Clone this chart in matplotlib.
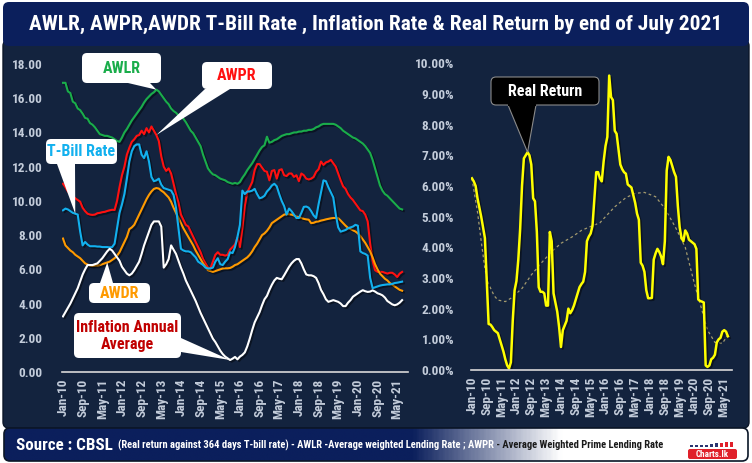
import numpy as np
import matplotlib
matplotlib.use('Agg')
import matplotlib.pyplot as plt
import matplotlib.patheffects as pe
from matplotlib import font_manager
from matplotlib.patches import FancyBboxPatch, Polygon, Rectangle
from matplotlib.colors import LinearSegmentedColormap
from matplotlib.transforms import Bbox, TransformedBbox

# monthly values, Jan-2010 .. Jul-2021
awlr = [16.9, 16.9, 16.4, 16.3, 15.8, 15.7, 15.4, 15.3, 15.1, 14.85, 14.8, 14.55,
        14.45, 14.3, 14.1, 13.9, 13.85, 13.8, 13.8, 13.75, 13.7, 13.6, 13.5, 13.45,
        13.7, 14.0, 14.2, 14.45, 14.7, 14.9, 15.1, 15.3, 15.5, 15.75, 15.95, 16.1,
        16.25, 16.35, 16.5, 16.4, 16.2, 16.0, 15.8, 15.65, 15.4, 15.25, 15.15, 15.0,
        15.0, 14.8, 14.6, 14.35, 14.1, 13.95, 13.7, 13.45, 13.2, 12.7, 12.3, 11.9,
        11.7, 11.55, 11.5, 11.4, 11.3, 11.25, 11.2, 11.1, 11.05, 11.0, 11.05, 11.0,
        11.1, 11.35, 11.55, 11.8, 12.0, 12.2, 12.45, 12.7, 12.95, 13.15, 13.25, 13.75,
        13.4, 13.45, 13.55, 13.6, 13.7, 13.8, 13.85, 13.9, 13.9, 13.95, 14.0, 14.0,
        14.05, 14.05, 14.1, 14.1, 14.15, 14.15, 14.2, 14.3, 14.35, 14.45, 14.5, 14.5,
        14.5, 14.5, 14.5, 14.45, 14.35, 14.25, 14.1, 14.0, 13.9, 13.8, 13.7, 13.65,
        13.55, 13.45, 13.35, 13.2, 13.0, 12.8, 12.4, 11.9, 11.4, 10.9, 10.6, 10.4,
        10.3, 10.15, 10.0, 9.85, 9.7, 9.55, 9.5]
awpr = [11.0, 10.8, 10.55, 10.4, 10.3, 10.15, 10.05, 9.95, 9.6, 9.4, 9.25, 9.2,
        9.18, 9.2, 9.28, 9.3, 9.34, 9.36, 9.41, 9.45, 9.48, 9.47, 10.0, 10.8,
        11.5, 12.0, 12.7, 13.1, 13.45, 13.6, 13.8, 13.85, 14.1, 13.9, 14.25, 14.0,
        14.35, 14.1, 13.85, 13.5, 12.6, 12.0, 11.75, 11.9, 11.6, 11.0, 10.4, 9.9,
        9.2, 8.9, 8.6, 8.5, 8.2, 7.9, 7.6, 7.3, 7.0, 6.6, 6.35, 6.1,
        6.05, 6.45, 6.85, 7.0, 6.85, 6.85, 6.8, 6.85, 7.15, 7.3, 7.45, 7.85,
        7.3, 8.4, 9.7, 10.5, 10.8, 11.1, 11.8, 12.15, 12.15, 11.95, 11.75, 11.7,
        11.2, 11.75, 11.8, 11.3, 11.8, 11.85, 11.5, 11.45, 11.6, 11.6, 11.4, 11.5,
        11.15, 11.6, 11.5, 11.3, 11.25, 11.3, 11.4, 11.7, 11.85, 12.3, 12.1, 12.25,
        12.3, 12.4, 12.2, 12.0, 11.6, 11.2, 10.85, 10.7, 10.4, 10.2, 10.05, 9.85,
        9.65, 9.45, 9.4, 9.2, 8.8, 7.5, 6.5, 5.95, 5.85, 5.85, 5.85, 5.8,
        5.75, 5.8, 5.8, 5.7, 5.55, 5.75, 5.85]
tbill = [9.45, 9.55, 9.5, 9.4, 9.3, 9.25, 9.2, 8.2, 7.4, 7.6, 7.45, 7.35,
         7.35, 7.35, 7.33, 7.33, 7.3, 7.3, 7.3, 7.28, 7.3, 7.5, 8.4, 9.3,
         9.8, 10.4, 11.3, 12.3, 12.9, 13.2, 13.3, 13.3, 12.7, 12.5, 12.9, 12.3,
         11.4, 11.15, 11.2, 11.3, 10.95, 10.75, 10.7, 10.65, 10.6, 10.35, 9.6, 8.4,
         7.2, 7.1, 7.05, 7.05, 7.0, 6.85, 6.7, 6.45, 6.35, 6.25, 6.1, 6.05,
         6.05, 6.1, 6.45, 6.65, 6.3, 6.25, 6.45, 6.6, 7.0, 6.95, 7.3, 7.9,
         8.6, 10.6, 10.4, 10.55, 10.55, 10.6, 10.7, 10.4, 10.15, 10.2, 10.3, 10.55,
         10.7, 10.9, 11.0, 10.85, 10.4, 10.0, 9.7, 9.2, 9.55, 9.4, 9.2, 9.0,
         9.0, 9.3, 9.65, 9.67, 9.6, 9.4, 9.15, 9.0, 9.8, 10.5, 11.2, 11.15,
         10.8, 10.5, 10.2, 9.2, 8.45, 8.2, 8.25, 8.3, 8.4, 8.45, 8.5, 8.6,
         8.55, 7.05, 6.95, 6.9, 6.8, 5.5, 4.9, 4.95, 5.0, 5.05, 5.08, 5.1,
         5.12, 5.12, 5.15, 5.2, 5.22, 5.25, 5.28]
awdr = [7.8, 7.4, 7.25, 7.1, 7.0, 6.85, 6.75, 6.65, 6.5, 6.35, 6.28, 6.22,
        6.2, 6.22, 6.22, 6.25, 6.3, 6.35, 6.4, 6.45, 6.55, 6.65, 6.8, 7.0,
        7.3, 7.6, 7.9, 8.35, 8.45, 8.6, 8.9, 9.2, 9.5, 9.8, 10.1, 10.35,
        10.55, 10.7, 10.75, 10.72, 10.6, 10.5, 10.35, 10.2, 9.95, 9.6, 9.3, 9.0,
        8.7, 8.4, 8.15, 7.9, 7.65, 7.4, 7.1, 6.85, 6.6, 6.35, 6.15, 5.95,
        5.9, 5.85, 5.9, 5.95, 6.0, 6.05, 6.06, 6.06, 6.08, 6.15, 6.25, 6.3,
        6.4, 6.5, 6.6, 6.7, 6.85, 7.05, 7.3, 7.5, 7.75, 8.0, 8.1, 8.25,
        8.45, 8.7, 8.8, 8.9, 9.0, 9.1, 9.2, 9.22, 9.22, 9.2, 9.15, 9.08,
        9.05, 9.0, 8.95, 8.92, 8.9, 8.7, 8.72, 8.78, 8.8, 8.85, 8.88, 8.92,
        8.95, 8.98, 9.0, 9.0, 8.99, 8.85, 8.7, 8.55, 8.42, 8.35, 8.28, 8.21,
        8.1, 7.95, 7.75, 7.55, 7.3, 7.05, 6.7, 6.3, 6.0, 5.75, 5.6, 5.45,
        5.35, 5.2, 5.1, 5.0, 4.9, 4.8, 4.75]
inflation = [3.25, 3.5, 3.75, 4.0, 4.3, 4.6, 4.9, 5.3, 5.7, 6.0, 6.25, 6.25,
             6.25, 6.3, 6.35, 6.5, 6.65, 6.85, 7.05, 7.2, 7.1, 6.9, 6.7, 6.5,
             6.15, 5.95, 5.75, 5.65, 5.75, 5.95, 6.2, 6.45, 6.9, 7.4, 7.8, 8.2,
             8.6, 8.8, 8.8, 8.8, 8.5, 6.1, 6.3, 6.6, 7.4, 7.15, 6.9, 6.5,
             6.1, 5.75, 5.35, 5.05, 4.75, 4.45, 4.15, 3.8, 3.45, 3.15, 2.85, 2.55,
             2.25, 1.95, 1.75, 1.5, 1.25, 1.05, 0.9, 0.8, 0.7, 0.78, 0.88, 0.74,
             0.9, 1.0, 1.15, 1.5, 1.95, 2.45, 2.9, 3.2, 3.5, 3.9, 4.25, 4.45,
             4.8, 5.1, 5.35, 5.5, 5.45, 5.42, 5.65, 5.9, 6.15, 6.35, 6.5, 6.6,
             6.6, 6.35, 6.0, 5.7, 5.65, 5.65, 5.6, 5.5, 5.2, 4.8, 4.55, 4.25,
             4.1, 4.15, 4.2, 4.15, 4.1, 4.0, 3.85, 3.85, 4.05, 4.2, 4.4, 4.5,
             4.6, 4.7, 4.78, 4.72, 4.68, 4.7, 4.77, 4.7, 4.6, 4.55, 4.48, 4.35,
             4.15, 4.05, 3.95, 3.9, 3.95, 4.05, 4.2]
real_return = [6.25, 6.15, 6.0, 5.6, 5.3, 5.0, 4.65, 4.3, 2.9, 1.5, 1.48, 1.4,
               1.3, 1.25, 1.2, 1.0, 0.8, 0.6, 0.35, 0.15, 0.05, 0.25, 1.6, 2.6,
               2.9, 3.6, 4.6, 6.0, 6.9, 7.0, 7.1, 7.0, 6.7, 5.6, 5.5, 4.5,
               2.7, 2.55, 2.55, 2.5, 2.1, 2.1, 4.5, 4.2, 2.5, 2.2, 1.9, 1.4,
               0.75, 1.3, 1.45, 1.6, 2.0, 1.85, 1.95, 2.1, 2.3, 2.5, 2.7, 2.8,
               2.88, 3.2, 4.2, 4.35, 4.45, 4.7, 5.6, 6.45, 6.45, 6.25, 6.15, 6.8,
               7.3, 7.6, 9.6, 8.9, 8.8, 7.8, 7.7, 7.2, 6.7, 6.55, 6.45, 6.4,
               6.05, 6.0, 5.95, 5.7, 5.45, 5.1, 4.9, 3.5, 3.4, 3.2, 2.6, 2.34,
               2.34, 2.35, 3.6, 3.8, 3.95, 3.85, 3.7, 3.45, 4.2, 6.5, 6.95, 6.85,
               6.65, 6.45, 6.3, 5.35, 4.65, 4.3, 4.2, 4.55, 4.45, 4.25, 4.2, 4.15,
               4.1, 3.95, 2.3, 2.25, 2.23, 2.2, 0.15, 0.1, 0.15, 0.35, 0.4, 0.5,
               0.9, 1.0, 1.05, 1.25, 1.3, 1.25, 1.1]
# dotted trend line of the real return, read at these months
trend_month = [0, 3, 5, 7, 9, 12, 14, 18, 21, 27, 32, 38, 43, 48, 54, 59, 64, 69,
               72, 77, 83, 88, 93, 99, 104, 110, 115, 120, 124, 127, 131, 135, 138]
trend_value = [6.25, 5.15, 4.2, 3.3, 2.8, 2.42, 2.28, 2.23, 2.34, 2.66, 3.1, 3.53,
               3.86, 4.13, 4.34, 4.55, 4.68, 4.8, 5.0, 5.32, 5.62, 5.76, 5.79, 5.65,
               5.27, 4.62, 4.0, 2.8, 1.95, 1.3, 0.9, 0.87, 1.14]

tick_labels = ['Jan-10', 'Sep-10', 'May-11', 'Jan-12', 'Sep-12', 'May-13', 'Jan-14',
               'Sep-14', 'May-15', 'Jan-16', 'Sep-16', 'May-17', 'Jan-18', 'Sep-18',
               'May-19', 'Jan-20', 'Sep-20', 'May-21']
left_yticks = [0, 2, 4, 6, 8, 10, 12, 14, 16, 18]
right_yticks = [0, 1, 2, 3, 4, 5, 6, 7, 8, 9, 10]

months = np.arange(len(awlr))
tick_pos = np.arange(len(tick_labels)) * 8

# pick a narrow font if there is one
names = {f.name for f in font_manager.fontManager.ttflist}
FONT = dict(family='DejaVu Sans', stretch='condensed')
for cand in ['Roboto Condensed', 'Liberation Sans Narrow']:
    if cand in names:
        FONT = dict(family=cand)
        break

W, H = 752, 463
fig = plt.figure(figsize=(W / 100, H / 100), dpi=100)
fig.patch.set_facecolor('white')


def px_axes(x0, y0, x1, y1, **kw):
    return fig.add_axes([x0 / W, 1 - y1 / H, (x1 - x0) / W, (y1 - y0) / H], **kw)


def pixel_layer(z):
    a = fig.add_axes([0, 0, 1, 1], zorder=z)
    a.set_xlim(0, W)
    a.set_ylim(H, 0)
    a.axis('off')
    a.patch.set_alpha(0)
    return a


bg = pixel_layer(0)
# main panel, title bar
bg.add_patch(FancyBboxPatch((3, 40), 746, 388, boxstyle='round,pad=0,rounding_size=6',
                            fc='#13233e', ec='#0b1628', lw=1))
bg.add_patch(FancyBboxPatch((3, 2), 746, 44, boxstyle='round,pad=0,rounding_size=6',
                            fc='#0b1f5c', ec='none'))
# footer with navy -> white gradient
foot = FancyBboxPatch((4, 428), 744, 33, boxstyle='round,pad=0,rounding_size=6',
                      fc='none', ec='#0b1628', lw=1.2, zorder=3)
bg.add_patch(foot)
grad = LinearSegmentedColormap.from_list('g', [(0, '#0b1f5c'), (0.55, '#0b1f5c'),
                                              (0.75, '#ffffff'), (1, '#ffffff')])
im = bg.imshow(np.linspace(0, 1, 400)[None, :], cmap=grad, aspect='auto',
               extent=(4, 748, 461, 428), zorder=2)
im.set_clip_path(foot)
bg.set_xlim(0, W)
bg.set_ylim(H, 0)

title = bg.text(W / 2, 24, 'AWLR, AWPR,AWDR T-Bill Rate , Inflation Rate & Real Return by end of July 2021',
                color='white', fontsize=17, fontweight='bold', ha='center', va='center', **FONT)

# footer texts: white over the navy part, dark over the white part
src = bg.text(16, 445, 'Source : CBSL', color='white', fontsize=11, fontweight='bold',
              va='center', zorder=4, **FONT)
note = '(Real return against 364 days T-bill rate) - AWLR -Average weighted Lending Rate ; AWPR - Average Weighted Prime Lending Rate'
note_w = bg.text(118, 445, note, color='white', fontsize=8, fontweight='bold', va='center', zorder=4, **FONT)
note_d = bg.text(118, 445, note, color='#1a1a1a', fontsize=8, fontweight='bold', va='center', zorder=4, **FONT)
split = 497
for t, (a, b) in [(note_w, (0, split)), (note_d, (split, W))]:
    t.set_clip_on(True)
    t.set_clip_box(TransformedBbox(Bbox([[a, 420], [b, 470]]), bg.transData))

# charts.lk logo
bg.add_patch(FancyBboxPatch((688, 449), 49, 10, boxstyle='round,pad=0,rounding_size=2',
                            fc='#e0202a', ec='none', zorder=4))
bg.text(712, 454.5, 'Charts.lk', color='white', fontsize=6.5, fontweight='bold',
        ha='center', va='center', zorder=5, **FONT)
for i, hgt in enumerate([2, 2, 2, 2, 3, 4, 4, 5, 5]):
    bg.add_patch(Rectangle((690 + i * 5, 447 - hgt), 3, hgt,
                           fc='#e0202a' if i > 5 else '#2a3570', ec='none', zorder=4))

renderer = fig.canvas.get_renderer()


def fit(t, width_px):
    w = t.get_window_extent(renderer).width
    t.set_fontsize(t.get_fontsize() * width_px / w)


fit(title, 697)
fit(src, 97)
fit(note_w, 549)
note_d.set_fontsize(note_w.get_fontsize())

tick_color = '#c3ccda'


def style(ax, yticks, yfmt, ypad):
    ax.set_facecolor('none')
    for s in ['top', 'right', 'left']:
        ax.spines[s].set_visible(False)
    ax.spines['bottom'].set_color('#d8d8d8')
    ax.spines['bottom'].set_linewidth(1.2)
    ax.set_xticks(tick_pos)
    ax.set_xticklabels(tick_labels, rotation=90)
    ax.set_yticks(yticks)
    ax.set_yticklabels([yfmt.format(v) for v in yticks])
    ax.tick_params(length=0, colors=tick_color)
    ax.tick_params(axis='y', pad=ypad)
    ax.tick_params(axis='x', pad=5)
    for lab in ax.get_xticklabels() + ax.get_yticklabels():
        lab.set_fontsize(9.5)
        lab.set_fontweight('bold')
        lab.set_fontfamily(FONT['family'])
        if 'stretch' in FONT:
            lab.set_fontstretch(FONT['stretch'])


shadow = [pe.SimpleLineShadow(offset=(1.2, -1.2), shadow_color='black', alpha=0.45), pe.Normal()]

axL = px_axes(62, 64, 408, 372, zorder=2)
axL.plot(months, awlr, color='#1aad4b', lw=1.5, path_effects=shadow)
axL.plot(months, awpr, color='#ff1010', lw=1.5, path_effects=shadow)
axL.plot(months, awdr, color='#ff9a00', lw=1.5, path_effects=shadow)
axL.plot(months, tbill, color='#12b0ee', lw=1.5, path_effects=shadow)
axL.plot(months, inflation, color='white', lw=1.5, path_effects=shadow)
axL.set_xlim(-0.4, 140.4)
axL.set_ylim(0, 18)
style(axL, left_yticks, '{:.2f}', 14)

axR = px_axes(471, 63.3, 732, 370, zorder=2)
axR.plot(trend_month, trend_value, color='#a39a6e', lw=0.9, ls=(0, (2.2, 2.2)))
axR.plot(months, real_return, color='#ffff00', lw=1.8, path_effects=shadow)
axR.set_xlim(-0.5, 140.2)
axR.set_ylim(0, 10)
style(axR, right_yticks, '{:.2f}%', 12)

fg = pixel_layer(6)


def to_px(ax, x, y):
    d = ax.transData.transform((x, y))
    return fg.transData.inverted().transform(d)


def callout(box, base, tip, text, color, fc='white', ec='none', fs=11.5):
    x0, y0, x1, y1 = box
    fg.add_patch(Polygon([base[0], base[1], tip], closed=True, fc=fc, ec=ec, lw=0.8, zorder=1))
    fg.add_patch(FancyBboxPatch((x0, y0), x1 - x0, y1 - y0, boxstyle='round,pad=0,rounding_size=5',
                                fc=fc, ec=ec, lw=0.8, zorder=2))
    if ec != 'none':
        # hide the edge where the pointer joins the box
        fg.plot([base[0][0] + 1, base[1][0] - 1], [base[0][1], base[1][1]], color=fc, lw=1.5, zorder=3)
    fg.text((x0 + x1) / 2, (y0 + y1) / 2 + 0.5, text, color=color, fontsize=fs, fontweight='bold',
            ha='center', va='center', linespacing=1.25, zorder=4, **FONT)


callout((82, 53, 161, 83), ((128, 83), (150, 83)), to_px(axL, 38, awlr[38]), 'AWLR', '#1aad4b')
callout((202, 62, 272, 89), ((205, 89), (230, 89)), to_px(axL, 38, awpr[38]), 'AWPR', '#ff1010')
callout((46, 139, 117, 164), ((57, 164), (75, 164)), to_px(axL, 5, tbill[5]), 'T-Bill Rate', '#12b0ee')
callout((89, 283, 150, 303), ((100, 283), (113, 283)), to_px(axL, 18, awdr[18]), 'AWDR', '#ff9a00')
callout((74, 313, 181, 358), ((181, 338), (181, 352)), to_px(axL, 68, inflation[68]),
        'Inflation Annual\nAverage', '#c00000')
callout((491, 77, 599, 105), ((508, 105), (536, 105)), to_px(axR, 30, real_return[30]),
        'Real Return', 'white', fc='black', ec='#8a8a8a')

fig.savefig('out.png', dpi=100, facecolor='white')
